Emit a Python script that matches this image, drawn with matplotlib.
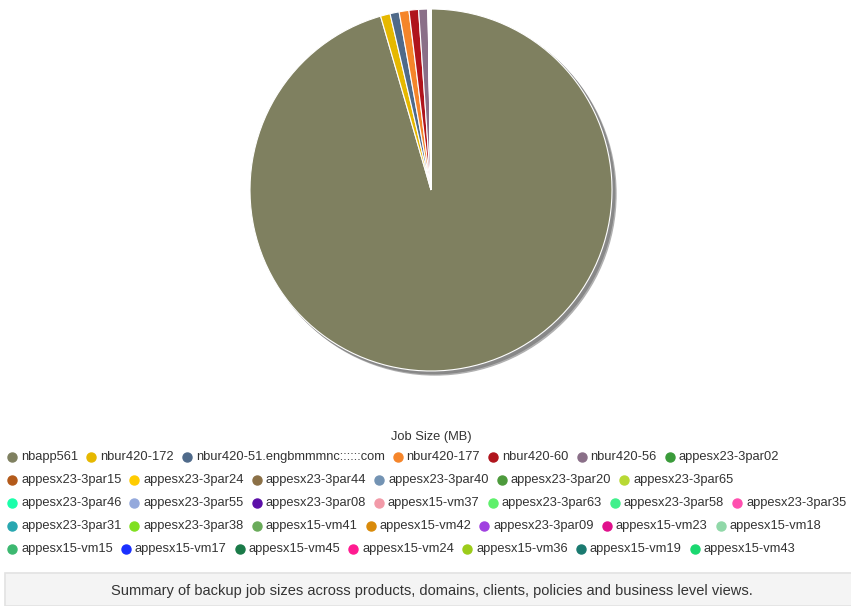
import matplotlib
matplotlib.use("Agg")
import matplotlib.pyplot as plt
from matplotlib.patches import Circle, Rectangle
from matplotlib.lines import Line2D

# hosts and their job sizes (MB)
hosts = ["nbapp561", "nbur420-172", "nbur420-51.engbmmmnc::::::com", "nbur420-177",
         "nbur420-60", "nbur420-56", "appesx23-3par02",
         "appesx23-3par15", "appesx23-3par24", "appesx23-3par44", "appesx23-3par40",
         "appesx23-3par20", "appesx23-3par65",
         "appesx23-3par46", "appesx23-3par55", "appesx23-3par08", "appesx15-vm37",
         "appesx23-3par63", "appesx23-3par58", "appesx23-3par35",
         "appesx23-3par31", "appesx23-3par38", "appesx15-vm41", "appesx15-vm42",
         "appesx23-3par09", "appesx15-vm23", "appesx15-vm18",
         "appesx15-vm15", "appesx15-vm17", "appesx15-vm45", "appesx15-vm24",
         "appesx15-vm36", "appesx15-vm19", "appesx15-vm43"]

job_size_mb = [95450, 860, 810, 875, 850, 830, 14,
               13, 12, 12, 11, 11, 11,
               10, 10, 10, 10, 10, 10, 9,
               9, 9, 9, 9, 8, 8, 8,
               8, 8, 7, 7, 7, 7, 7]

colors = ["#7f8060", "#e6b800", "#4f6a8a", "#f5852a", "#b0141c", "#8a6f88", "#3a9b3a",
          "#b35a1a", "#ffcc00", "#8b7046", "#7393b3", "#4d9a3c", "#b8d934",
          "#1affaa", "#94a9dc", "#5c0fa8", "#f29aa8", "#5ef06b", "#40f08c", "#ff4faf",
          "#28a7b0", "#80e020", "#6aab5a", "#d98a0a", "#a040e0", "#e0108c", "#90d8a8",
          "#3cb870", "#1a30ff", "#1a7a48", "#ff1a90", "#9ccc1a", "#1a7a70", "#1ad870"]

legend_title = "Job Size (MB)"
caption = "Summary of backup job sizes across products, domains, clients, policies and business level views."

W, H = 851, 606
fig = plt.figure(figsize=(W / 100, H / 100), dpi=100)
plt.rcParams['font.family'] = ['Liberation Sans', 'DejaVu Sans']


def fx(x):
    return x / W


def fy(y):
    return 1 - y / H


# pie
cx, cy, r = 431, 190, 181
ax = fig.add_axes([fx(cx - r), fy(cy + r), 2 * r / W, 2 * r / H])
# soft shadow, lower right
ax.add_patch(Circle((0.022, -0.022), 1.0, color="#b0b0b0", zorder=0, clip_on=False))
ax.add_patch(Circle((0.015, -0.015), 1.0, color="#888888", zorder=0, clip_on=False))
ax.pie(job_size_mb, colors=colors, startangle=90, counterclock=False,
       wedgeprops=dict(edgecolor="white", linewidth=0.8))
ax.set_xlim(-1, 1)
ax.set_ylim(-1, 1)
ax.set_aspect("auto")
ax.axis("off")

# legend (flow layout like the original)
fig.text(fx(431), fy(437), legend_title, ha="center", va="center", fontsize=9.3, color="#333333")
row_sizes = [7, 6, 7, 7, 7]
row_y = [457, 480, 503, 526, 549]
renderer = fig.canvas.get_renderer()
i = 0
for n, y in zip(row_sizes, row_y):
    x = 12
    for k in range(n):
        fig.add_artist(Line2D([fx(x)], [fy(y)], marker="o", markersize=6.5,
                              color=colors[i], transform=fig.transFigure))
        t = fig.text(fx(x + 9), fy(y), hosts[i], ha="left", va="center",
                     fontsize=9.3, color="#333333")
        w = t.get_window_extent(renderer).width
        x = x + 9 + w + 13
        i += 1

# caption box
fig.add_artist(Rectangle((fx(5), 0), 1, fy(573), transform=fig.transFigure,
                         facecolor="#f4f4f4", edgecolor="#e2e2e2", linewidth=1.2))
fig.text(fx(432), fy(591), caption, ha="center", va="center", fontsize=10.5,
         color="#333333")

fig.savefig("out.png", dpi=100)
